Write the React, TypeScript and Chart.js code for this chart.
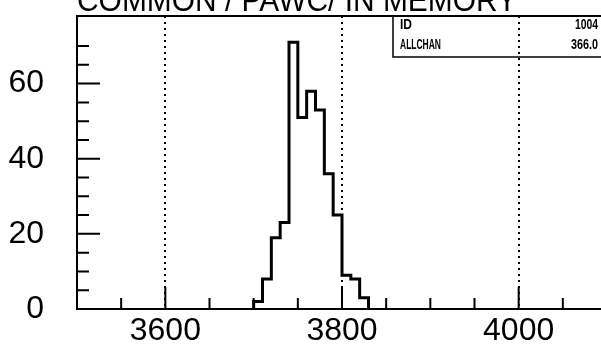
import React, { useEffect, useRef } from "react";
import { Chart, registerables } from "chart.js";

Chart.register(...registerables);

// ---- data ----
const binEdges = [3700, 3710, 3720, 3730, 3740, 3750, 3760, 3770, 3780, 3790, 3800, 3810, 3820, 3830];
const binCounts = [2, 8, 19, 23, 71, 51, 58, 53, 36, 25, 9, 8, 3];
const xTickLabels = [3600, 3800, 4000];
const yTickLabels = [0, 20, 40, 60];
const titleText = "COMMON / PAWC/ IN MEMORY";
const statsNames = ["ID", "ALLCHAN"];
const statsValues = ["1004", "366.0"];

const FONT = "'Liberation Sans', Arial, Helvetica, sans-serif";

const zeroPad = (s: any) => {
  s.paddingTop = 0;
  s.paddingBottom = 0;
  s.paddingLeft = 0;
  s.paddingRight = 0;
};

const pawPlugin = {
  id: "pawFrame",
  beforeDraw(chart: any) {
    const { ctx, chartArea } = chart;
    // statistics box
    const left = 393;
    const top = chartArea.top;
    const bottom = 57;
    ctx.save();
    ctx.fillStyle = "#fff";
    ctx.fillRect(left, top, chart.width - left + 5, bottom - top);
    ctx.strokeStyle = "#000";
    ctx.lineWidth = 1.5;
    ctx.beginPath();
    ctx.moveTo(chart.width + 5, bottom);
    ctx.lineTo(left, bottom);
    ctx.lineTo(left, top);
    ctx.stroke();
    ctx.fillStyle = "#000";
    ctx.font = `bold 15px ${FONT}`;
    ctx.textBaseline = "alphabetic";
    const nameWidths = [12, 41];
    const valWidths = [23, 27];
    const baselines = [29, 49];
    statsNames.forEach((n, i) => {
      ctx.textAlign = "left";
      ctx.fillText(n, 400, baselines[i], nameWidths[i]);
      ctx.textAlign = "right";
      ctx.fillText(statsValues[i], 598, baselines[i], valWidths[i]);
    });
    ctx.restore();
  },
  afterDraw(chart: any) {
    const { ctx, chartArea } = chart;
    const xs = chart.scales.x;
    const ys = chart.scales.y;
    ctx.save();
    ctx.strokeStyle = "#000";
    ctx.lineWidth = 2;
    // frame
    ctx.beginPath();
    ctx.moveTo(chart.width + 5, chartArea.top);
    ctx.lineTo(chartArea.left, chartArea.top);
    ctx.lineTo(chartArea.left, chartArea.bottom);
    ctx.lineTo(chart.width + 5, chartArea.bottom);
    ctx.stroke();
    // inward ticks x
    ctx.beginPath();
    xs.ticks.forEach((t: any) => {
      if (t.value % 50 !== 0) return;
      const px = xs.getPixelForValue(t.value);
      if (px <= chartArea.left + 2 || px >= chartArea.right - 1) return;
      const len = xTickLabels.includes(t.value) ? 22 : 11;
      ctx.moveTo(px, chartArea.bottom);
      ctx.lineTo(px, chartArea.bottom - len);
    });
    // inward ticks y
    ys.ticks.forEach((t: any) => {
      if (t.value % 5 !== 0) return;
      const py = ys.getPixelForValue(t.value);
      if (py >= chartArea.bottom - 2 || py <= chartArea.top + 1) return;
      const len = yTickLabels.includes(t.value) ? 23 : 12;
      ctx.moveTo(chartArea.left, py);
      ctx.lineTo(chartArea.left + len, py);
    });
    ctx.stroke();
    // title (clipped at top of page)
    ctx.fillStyle = "#000";
    ctx.font = `31px ${FONT}`;
    ctx.textAlign = "left";
    ctx.textBaseline = "alphabetic";
    ctx.fillText(titleText, 77, 10.5, 440);
    ctx.restore();
  },
};

export default function App() {
  const ref = useRef<HTMLCanvasElement | null>(null);

  useEffect(() => {
    if (!ref.current) return;
    const points: { x: number; y: number }[] = [{ x: binEdges[0], y: 0 }];
    binCounts.forEach((c, i) => points.push({ x: binEdges[i + 1], y: c }));
    points.push({ x: binEdges[binEdges.length - 1], y: 0 });

    const chart = new Chart(ref.current, {
      type: "line",
      data: {
        datasets: [
          {
            data: points,
            stepped: "after",
            borderColor: "#000",
            borderWidth: 3,
            pointRadius: 0,
            fill: false,
          },
        ],
      },
      options: {
        responsive: false,
        animation: false,
        events: [],
        layout: { padding: { top: 16, right: 3, left: 0, bottom: 0 } },
        plugins: { legend: { display: false }, tooltip: { enabled: false }, title: { display: false } },
        scales: {
          x: {
            type: "linear",
            min: 3500,
            max: 4100,
            afterFit: (s: any) => {
              s.height = 41;
              zeroPad(s);
            },
            border: { display: false, dash: [2, 4] },
            grid: {
              drawTicks: false,
              lineWidth: 2,
              color: (c: any) => (c.tick && xTickLabels.includes(c.tick.value) ? "#000" : "rgba(0,0,0,0)"),
            },
            ticks: {
              stepSize: 50,
              autoSkip: false,
              maxRotation: 0,
              padding: 3,
              color: "#000",
              font: { family: FONT, size: 32 },
              callback: (v: any) => (xTickLabels.includes(Number(v)) ? String(v) : ""),
            },
          },
          y: {
            type: "linear",
            min: 0,
            max: 78,
            afterFit: (s: any) => {
              s.width = 77;
              zeroPad(s);
            },
            border: { display: false },
            grid: { display: false, drawTicks: false },
            ticks: {
              stepSize: 5,
              autoSkip: false,
              padding: 33,
              color: "#000",
              font: { family: FONT, size: 32 },
              callback: (v: any) => (yTickLabels.includes(Number(v)) ? String(v) : ""),
            },
          },
        },
      },
      plugins: [pawPlugin],
    });
    return () => chart.destroy();
  }, []);

  return (
    <div
      style={{
        position: "fixed",
        left: 0,
        top: 0,
        width: 601,
        height: 350,
        overflow: "hidden",
        background: "#fff",
      }}
    >
      <canvas ref={ref} width={610} height={350} style={{ display: "block" }} />
    </div>
  );
}
